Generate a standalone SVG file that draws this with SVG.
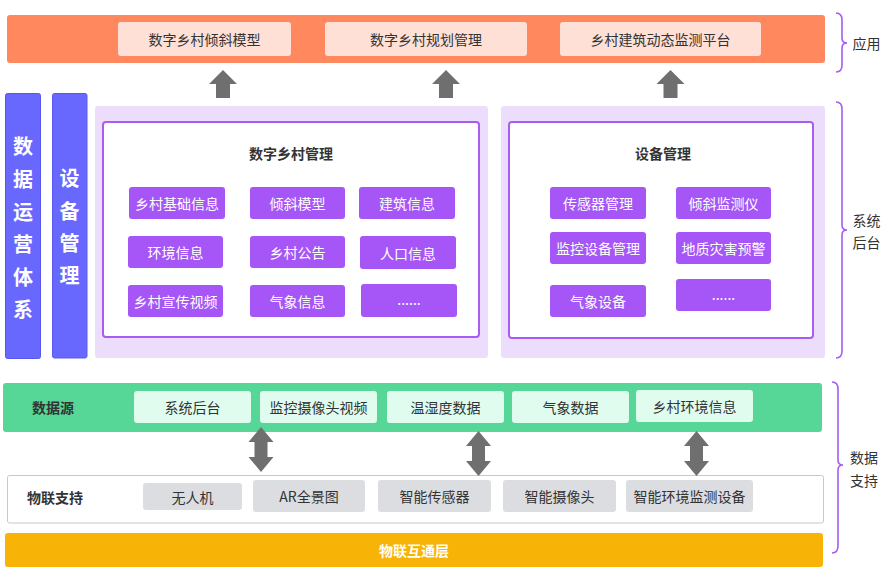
<svg xmlns="http://www.w3.org/2000/svg" width="894" height="573" viewBox="0 0 894 573">
<defs>
<style>
text{font-family:"Noto Sans CJK SC","Noto Sans",sans-serif;font-size:14px;text-anchor:middle;dominant-baseline:central;fill:#333}
.b{font-weight:bold}
.w{fill:#fff}
.app{fill:#FFE0D6}
.pbox{fill:#A656F6}
.lav{fill:#EDDDFD}
.inner{fill:#fff;stroke:#A95CF2;stroke-width:2}
.col{fill:#6868FF;stroke:#5858EE;stroke-width:1}
.col text{}
.gbox{fill:#DFFCEF}
.ibox{fill:#DCDDE0}
.arr{fill:#6F6F6F}
.brace{fill:none;stroke:#A45BF5;stroke-width:1.6}
.big{font-size:20px;font-weight:bold;fill:#fff}
</style>
</defs>
<g id="app-layer">
<rect x="7" y="15" width="818" height="48" rx="3" fill="#FF885E"/>
<g id="app1"><rect class="app" x="118" y="22" width="173" height="34" rx="3"/><text x="204.5" y="39">数字乡村倾斜模型</text></g>
<g id="app2"><rect class="app" x="325" y="22" width="202" height="34" rx="3"/><text x="426" y="39">数字乡村规划管理</text></g>
<g id="app3"><rect class="app" x="560" y="22" width="201" height="34" rx="3"/><text x="660.5" y="39">乡村建筑动态监测平台</text></g>
</g>
<g id="col-ops"><rect class="col" x="5.5" y="93.5" width="35" height="265" rx="2"/>
<text class="big" x="23" y="145">数</text><text class="big" x="23" y="178">据</text><text class="big" x="23" y="211">运</text><text class="big" x="23" y="243">营</text><text class="big" x="23" y="276">体</text><text class="big" x="23" y="308">系</text></g>
<g id="col-dev"><rect class="col" x="52.5" y="93.5" width="34.5" height="264.5" rx="2"/>
<text class="big" x="69.5" y="177">设</text><text class="big" x="69.5" y="210">备</text><text class="big" x="69.5" y="242">管</text><text class="big" x="69.5" y="274">理</text></g>
<g id="village-mgmt">
<rect class="lav" x="95" y="106" width="393" height="252" rx="3"/>
<rect class="inner" x="103" y="122" width="376" height="215" rx="3"/>
<text class="b" x="291" y="153">数字乡村管理</text>
<g id="vm1"><rect class="pbox" x="129" y="187" width="96" height="32" rx="3"/><text class="w" x="177" y="203">乡村基础信息</text></g>
<g id="vm2"><rect class="pbox" x="250" y="187" width="95" height="32" rx="3"/><text class="w" x="297.5" y="203">倾斜模型</text></g>
<g id="vm3"><rect class="pbox" x="359" y="187" width="96" height="32" rx="3"/><text class="w" x="407" y="203">建筑信息</text></g>
<g id="vm4"><rect class="pbox" x="128" y="236" width="95" height="32" rx="3"/><text class="w" x="175.5" y="252">环境信息</text></g>
<g id="vm5"><rect class="pbox" x="250" y="236" width="95" height="32" rx="3"/><text class="w" x="297.5" y="252">乡村公告</text></g>
<g id="vm6"><rect class="pbox" x="360" y="236" width="96" height="33" rx="3"/><text class="w" x="408" y="252.5">人口信息</text></g>
<g id="vm7"><rect class="pbox" x="128" y="285" width="95" height="32" rx="3"/><text class="w" x="175.5" y="301">乡村宣传视频</text></g>
<g id="vm8"><rect class="pbox" x="250" y="285" width="95" height="32" rx="3"/><text class="w" x="297.5" y="301">气象信息</text></g>
<g id="vm9"><rect class="pbox" x="361" y="284" width="96" height="33" rx="3"/><text class="w" x="409" y="299">......</text></g>
</g>
<g id="device-mgmt">
<rect class="lav" x="501" y="106" width="324" height="252" rx="3"/>
<rect class="inner" x="509" y="122" width="304" height="216" rx="3"/>
<text class="b" x="663" y="153">设备管理</text>
<g id="dm1"><rect class="pbox" x="550" y="187" width="96" height="32" rx="3"/><text class="w" x="598" y="203">传感器管理</text></g>
<g id="dm2"><rect class="pbox" x="676" y="187" width="95" height="32" rx="3"/><text class="w" x="723.5" y="203">倾斜监测仪</text></g>
<g id="dm3"><rect class="pbox" x="550" y="232" width="96" height="32" rx="3"/><text class="w" x="598" y="248">监控设备管理</text></g>
<g id="dm4"><rect class="pbox" x="676" y="232" width="95" height="32" rx="3"/><text class="w" x="723.5" y="248">地质灾害预警</text></g>
<g id="dm5"><rect class="pbox" x="550" y="285" width="96" height="32" rx="3"/><text class="w" x="598" y="301">气象设备</text></g>
<g id="dm6"><rect class="pbox" x="676" y="279" width="95" height="32" rx="3"/><text class="w" x="723.5" y="294">......</text></g>
</g>
<g id="data-source">
<rect x="3" y="383" width="819" height="49" rx="3" fill="#56D697"/>
<text class="b" x="53" y="407">数据源</text>
<g id="ds1"><rect class="gbox" x="134" y="391" width="117" height="32" rx="3"/><text x="192.5" y="407">系统后台</text></g>
<g id="ds2"><rect class="gbox" x="260" y="391" width="117" height="32" rx="3"/><text x="318.5" y="407">监控摄像头视频</text></g>
<g id="ds3"><rect class="gbox" x="387" y="391" width="117" height="32" rx="3"/><text x="445.5" y="407">温湿度数据</text></g>
<g id="ds4"><rect class="gbox" x="512" y="391" width="117" height="32" rx="3"/><text x="570.5" y="407">气象数据</text></g>
<g id="ds5"><rect class="gbox" x="636" y="390" width="117" height="32" rx="3"/><text x="694.5" y="406">乡村环境信息</text></g>
</g>
<g id="iot-support">
<rect x="7.5" y="475.5" width="816" height="47.5" rx="2" fill="#fff" stroke="#C8C8C8" stroke-width="1"/>
<text class="b" x="55" y="497">物联支持</text>
<g id="iot1"><rect class="ibox" x="143" y="483" width="99" height="27" rx="3"/><text x="192.5" y="496.5">无人机</text></g>
<g id="iot2"><rect class="ibox" x="253" y="480" width="112" height="32" rx="3"/><text x="309" y="496">AR全景图</text></g>
<g id="iot3"><rect class="ibox" x="378" y="480" width="113" height="32" rx="3"/><text x="434.5" y="496">智能传感器</text></g>
<g id="iot4"><rect class="ibox" x="503" y="480" width="113" height="32" rx="3"/><text x="559.5" y="496">智能摄像头</text></g>
<g id="iot5"><rect class="ibox" x="626" y="480" width="127" height="32" rx="3"/><text x="689.5" y="496">智能环境监测设备</text></g>
</g>
<g id="iot-layer">
<rect x="5" y="533" width="818" height="34" rx="3" fill="#F8B406"/>
<text class="b w" x="414" y="550">物联互通层</text>
</g>
<g id="connectors">
<polygon class="arr" points="223,70 237,84 230,84 230,98 216,98 216,84 209,84"/>
<polygon class="arr" points="446,70 460,84 453,84 453,98 439,98 439,84 432,84"/>
<polygon class="arr" points="670.5,70 684.5,84 677.5,84 677.5,98 663.5,98 663.5,84 656.5,84"/>
<polygon class="arr" points="261,427 273.5,442 267.5,442 267.5,457 273.5,457 261,472 248.5,457 254.5,457 254.5,442 248.5,442"/>
<polygon class="arr" points="478.5,431 491,446 485,446 485,461 491,461 478.5,476 466,461 472,461 472,446 466,446"/>
<polygon class="arr" points="696.5,431 709,446 703,446 703,461 709,461 696.5,476 684,461 690,461 690,446 684,446"/>
</g>
<g id="brace-app">
<path class="brace" d="M836,13 Q842,13 842,20 L842,38 Q842,43 847,43 Q842,43 842,48 L842,65 Q842,72 836,72"/>
<text x="866.5" y="43">应用</text>
</g>
<g id="brace-sys">
<path class="brace" d="M836,102 Q842,102 842,109 L842,225 Q842,230 847,230 Q842,230 842,235 L842,351 Q842,358 836,358"/>
<text x="866.5" y="220">系统</text>
<text x="866.5" y="242">后台</text>
</g>
<g id="brace-data">
<path class="brace" d="M832,382 Q838,382 838,389 L838,460 Q838,465 843,465 Q838,465 838,470 L838,546 Q838,553 832,553"/>
<text x="864" y="457">数据</text>
<text x="864" y="480">支持</text>
</g>
</svg>
